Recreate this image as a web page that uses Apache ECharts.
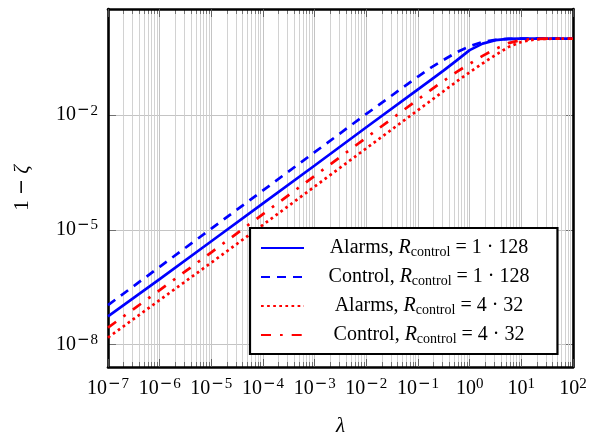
<!DOCTYPE html>
<html><head><meta charset="utf-8">
<script src="https://cdn.jsdelivr.net/npm/echarts@6/dist/echarts.min.js"></script>
<style>html,body{margin:0;padding:0;background:#fff}#c{width:589px;height:435px}</style>
</head><body><div id="c"></div>
<script>
const FONT = '"Liberation Serif", "DejaVu Serif", serif';
const MINUS_FONT = '"DejaVu Sans", sans-serif';

// λ sample positions
const lambdaValues = [1e-7, 1e-6, 1e-5, 1e-4, 1e-3, 1e-2, 0.1, 0.178, 0.316, 0.562, 1, 1.78, 3.16, 5.62, 10, 17.8, 31.6, 100];
// 1 - zeta values for each series
const alarms1x128  = [5.4e-8, 5.1e-7, 5.0e-6, 4.9e-5, 4.8e-4, 4.8e-3, 0.047, 0.083, 0.148, 0.27, 0.50, 0.74, 0.91, 0.98, 1, 1, 1, 1];
const control1x128 = [1.07e-7, 1.07e-6, 1.07e-5, 1.07e-4, 1.07e-3, 0.0107, 0.102, 0.174, 0.28, 0.44, 0.63, 0.82, 0.93, 0.986, 1, 1, 1, 1];
const alarms4x32   = [1.51e-8, 1.45e-7, 1.38e-6, 1.35e-5, 1.35e-4, 1.35e-3, 0.0135, 0.024, 0.0427, 0.076, 0.132, 0.224, 0.372, 0.60, 0.82, 0.95, 0.99, 1];
const control4x32  = [2.75e-8, 2.63e-7, 2.57e-6, 2.57e-5, 2.57e-4, 2.57e-3, 0.0257, 0.0457, 0.079, 0.135, 0.219, 0.355, 0.537, 0.76, 0.923, 0.986, 1, 1];

const seriesNames = ['Alarms, R_control = 1·128', 'Control, R_control = 1·128', 'Alarms, R_control = 4·32', 'Control, R_control = 4·32'];
const legendLabels = [
  '{n|Alarms, }{i|R}{sub|control}{n| = 1 · 128}',
  '{n|Control, }{i|R}{sub|control}{n| = 1 · 128}',
  '{n|Alarms, }{i|R}{sub|control}{n| = 4 · 32}',
  '{n|Control, }{i|R}{sub|control}{n| = 4 · 32}'
];
const xTickExponents = [-7, -6, -5, -4, -3, -2, -1, 0, 1, 2];
const yTickExponents = [-8, -5, -2];
const xRange = [1e-7, 1e2];
const yRange = [Math.pow(10, -8.59), Math.pow(10, 0.775)];

const pairs = arr => lambdaValues.map((l, i) => [l, arr[i]]);

function expLabel(v, list) {
  const lg = Math.log10(v);
  const e = Math.round(lg);
  if (Math.abs(lg - e) > 1e-6 || list.indexOf(e) < 0) return '';
  return '{b|10}' + (e < 0 ? '{m|\u2212}{s|' + (-e) + '}' : '{s|' + e + '}');
}
const supRich = {
  b: { fontFamily: FONT, fontSize: 20, lineHeight: 24, color: '#000' },
  s: { fontFamily: FONT, fontSize: 15, lineHeight: 14, verticalAlign: 'top', color: '#000' },
  m: { fontFamily: MINUS_FONT, fontSize: 15, lineHeight: 14, verticalAlign: 'top', color: '#000', padding: [0, 1, 0, 1] }
};

// grid decorations (gridlines and minor ticks at 2..9 × 10^k)
const minorX = [];
for (let d = -7; d < 2; d++) for (let k = 2; k <= 9; k++) minorX.push(k * Math.pow(10, d));
const tickDec = 5 / 38.2; // minor tick length in y decades
const yTickDec = 8 / 51.7; // y major tick length in x decades
const tickStyle = { color: '#666', width: 0.9 };
const minorStyle = { color: '#cdcdcd', width: 0.9 };
const gridData = [];
yTickExponents.forEach(e => {
  const y = Math.pow(10, e);
  gridData.push([{ coord: [xRange[0], y] }, { coord: [xRange[1], y] }]);
  gridData.push([{ coord: [xRange[0], y], lineStyle: tickStyle }, { coord: [xRange[0] * Math.pow(10, yTickDec), y] }]);
  gridData.push([{ coord: [xRange[1], y], lineStyle: tickStyle }, { coord: [xRange[1] / Math.pow(10, yTickDec), y] }]);
});
minorX.forEach(v => gridData.push([{ coord: [v, yRange[0]], lineStyle: minorStyle }, { coord: [v, yRange[1]] }]));
minorX.forEach(v => {
  gridData.push([{ coord: [v, yRange[0]], lineStyle: tickStyle }, { coord: [v, yRange[0] * Math.pow(10, tickDec)] }]);
  gridData.push([{ coord: [v, yRange[1]], lineStyle: tickStyle }, { coord: [v, yRange[1] / Math.pow(10, tickDec)] }]);
});

const frameAxis = (pos, isX) => ({
  type: 'log', min: isX ? xRange[0] : yRange[0], max: isX ? xRange[1] : yRange[1],
  position: pos, z: 3,
  axisLine: { show: true, lineStyle: { color: '#000', width: 2.6 } },
  axisTick: isX ? { show: true, inside: true, length: 8, lineStyle: { color: '#555', width: 0.9 } } : { show: false },
  axisLabel: { show: false }, splitLine: { show: false }
});

const chart = echarts.init(document.getElementById('c'), null, { renderer: 'canvas' });
chart.setOption({
  animation: false,
  backgroundColor: '#fff',
  grid: { left: 108, right: 16, top: 9, bottom: 68, containLabel: false, outerBoundsMode: 'none' },
  xAxis: [
    {
      type: 'log', min: xRange[0], max: xRange[1], position: 'bottom',
      axisLine: { show: false }, axisTick: { show: false },
      splitLine: { show: true, lineStyle: { color: '#c4c4c4', width: 1 } },
      axisLabel: { margin: 10, formatter: v => expLabel(v, xTickExponents), rich: supRich, showMinLabel: true, showMaxLabel: true },
      name: '\u03bb', nameLocation: 'middle', nameGap: 49,
      nameTextStyle: { fontFamily: FONT, fontStyle: 'italic', fontSize: 21, color: '#000' }
    },
    frameAxis('top', true),
    frameAxis('bottom', true)
  ],
  yAxis: [
    {
      type: 'log', min: yRange[0], max: yRange[1], position: 'left',
      axisLine: { show: false }, axisTick: { show: false }, splitLine: { show: false },
      axisLabel: { margin: 10, formatter: v => expLabel(v, yTickExponents), rich: supRich },
      name: '{n|1 }{m|\u2212}{i| \u03b6}', nameLocation: 'middle', nameGap: 75,
      nameTextStyle: { fontFamily: FONT, fontSize: 21, color: '#000',
        rich: { n: { fontFamily: FONT, fontSize: 21 }, m: { fontFamily: MINUS_FONT, fontSize: 19 },
                i: { fontFamily: FONT, fontSize: 21, fontStyle: 'italic' } } }
    },
    frameAxis('right', false),
    frameAxis('left', false)
  ],
  legend: {
    orient: 'vertical', left: 250, top: 228,
    backgroundColor: '#fff', borderColor: '#000', borderWidth: 2.2, borderRadius: 0,
    padding: [10, 28, 8, 10], itemGap: 8, itemWidth: 43, itemHeight: 14,
    itemStyle: { opacity: 0 },
    data: seriesNames,
    formatter: name => legendLabels[seriesNames.indexOf(name)],
    textStyle: {
      fontFamily: FONT, fontSize: 20, color: '#000', width: 240,
      rich: {
        n: { fontFamily: FONT, fontSize: 20, lineHeight: 22, color: '#000', align: 'center' },
        i: { fontFamily: FONT, fontSize: 20, lineHeight: 22, fontStyle: 'italic', color: '#000', align: 'center' },
        sub: { fontFamily: FONT, fontSize: 14, lineHeight: 13, verticalAlign: 'bottom', color: '#000', align: 'center' }
      }
    }
  },
  series: [
    {
      name: seriesNames[0], type: 'line', data: pairs(alarms1x128), symbol: 'none', smooth: false,
      lineStyle: { color: '#0000ff', width: 2.7, type: 'solid' }, itemStyle: { color: '#0000ff' },
      markLine: { silent: true, z: 1, symbol: ['none', 'none'], animation: false, label: { show: false },
        lineStyle: { color: '#c4c4c4', width: 1, type: 'solid' }, emphasis: { disabled: true }, data: gridData }
    },
    {
      name: seriesNames[1], type: 'line', data: pairs(control1x128), symbol: 'none', smooth: false,
      lineStyle: { color: '#0000ff', width: 2.7, type: [9, 7] }, itemStyle: { color: '#0000ff' }
    },
    {
      name: seriesNames[2], type: 'line', data: pairs(alarms4x32), symbol: 'none', smooth: false,
      lineStyle: { color: '#ff0000', width: 2.7, type: [2.7, 3.4] }, itemStyle: { color: '#ff0000' }
    },
    {
      name: seriesNames[3], type: 'line', data: pairs(control4x32), symbol: 'none', smooth: false,
      lineStyle: { color: '#ff0000', width: 2.7, type: [10, 9, 2.7, 9] }, itemStyle: { color: '#ff0000' }
    }
  ]
});
</script></body></html>
